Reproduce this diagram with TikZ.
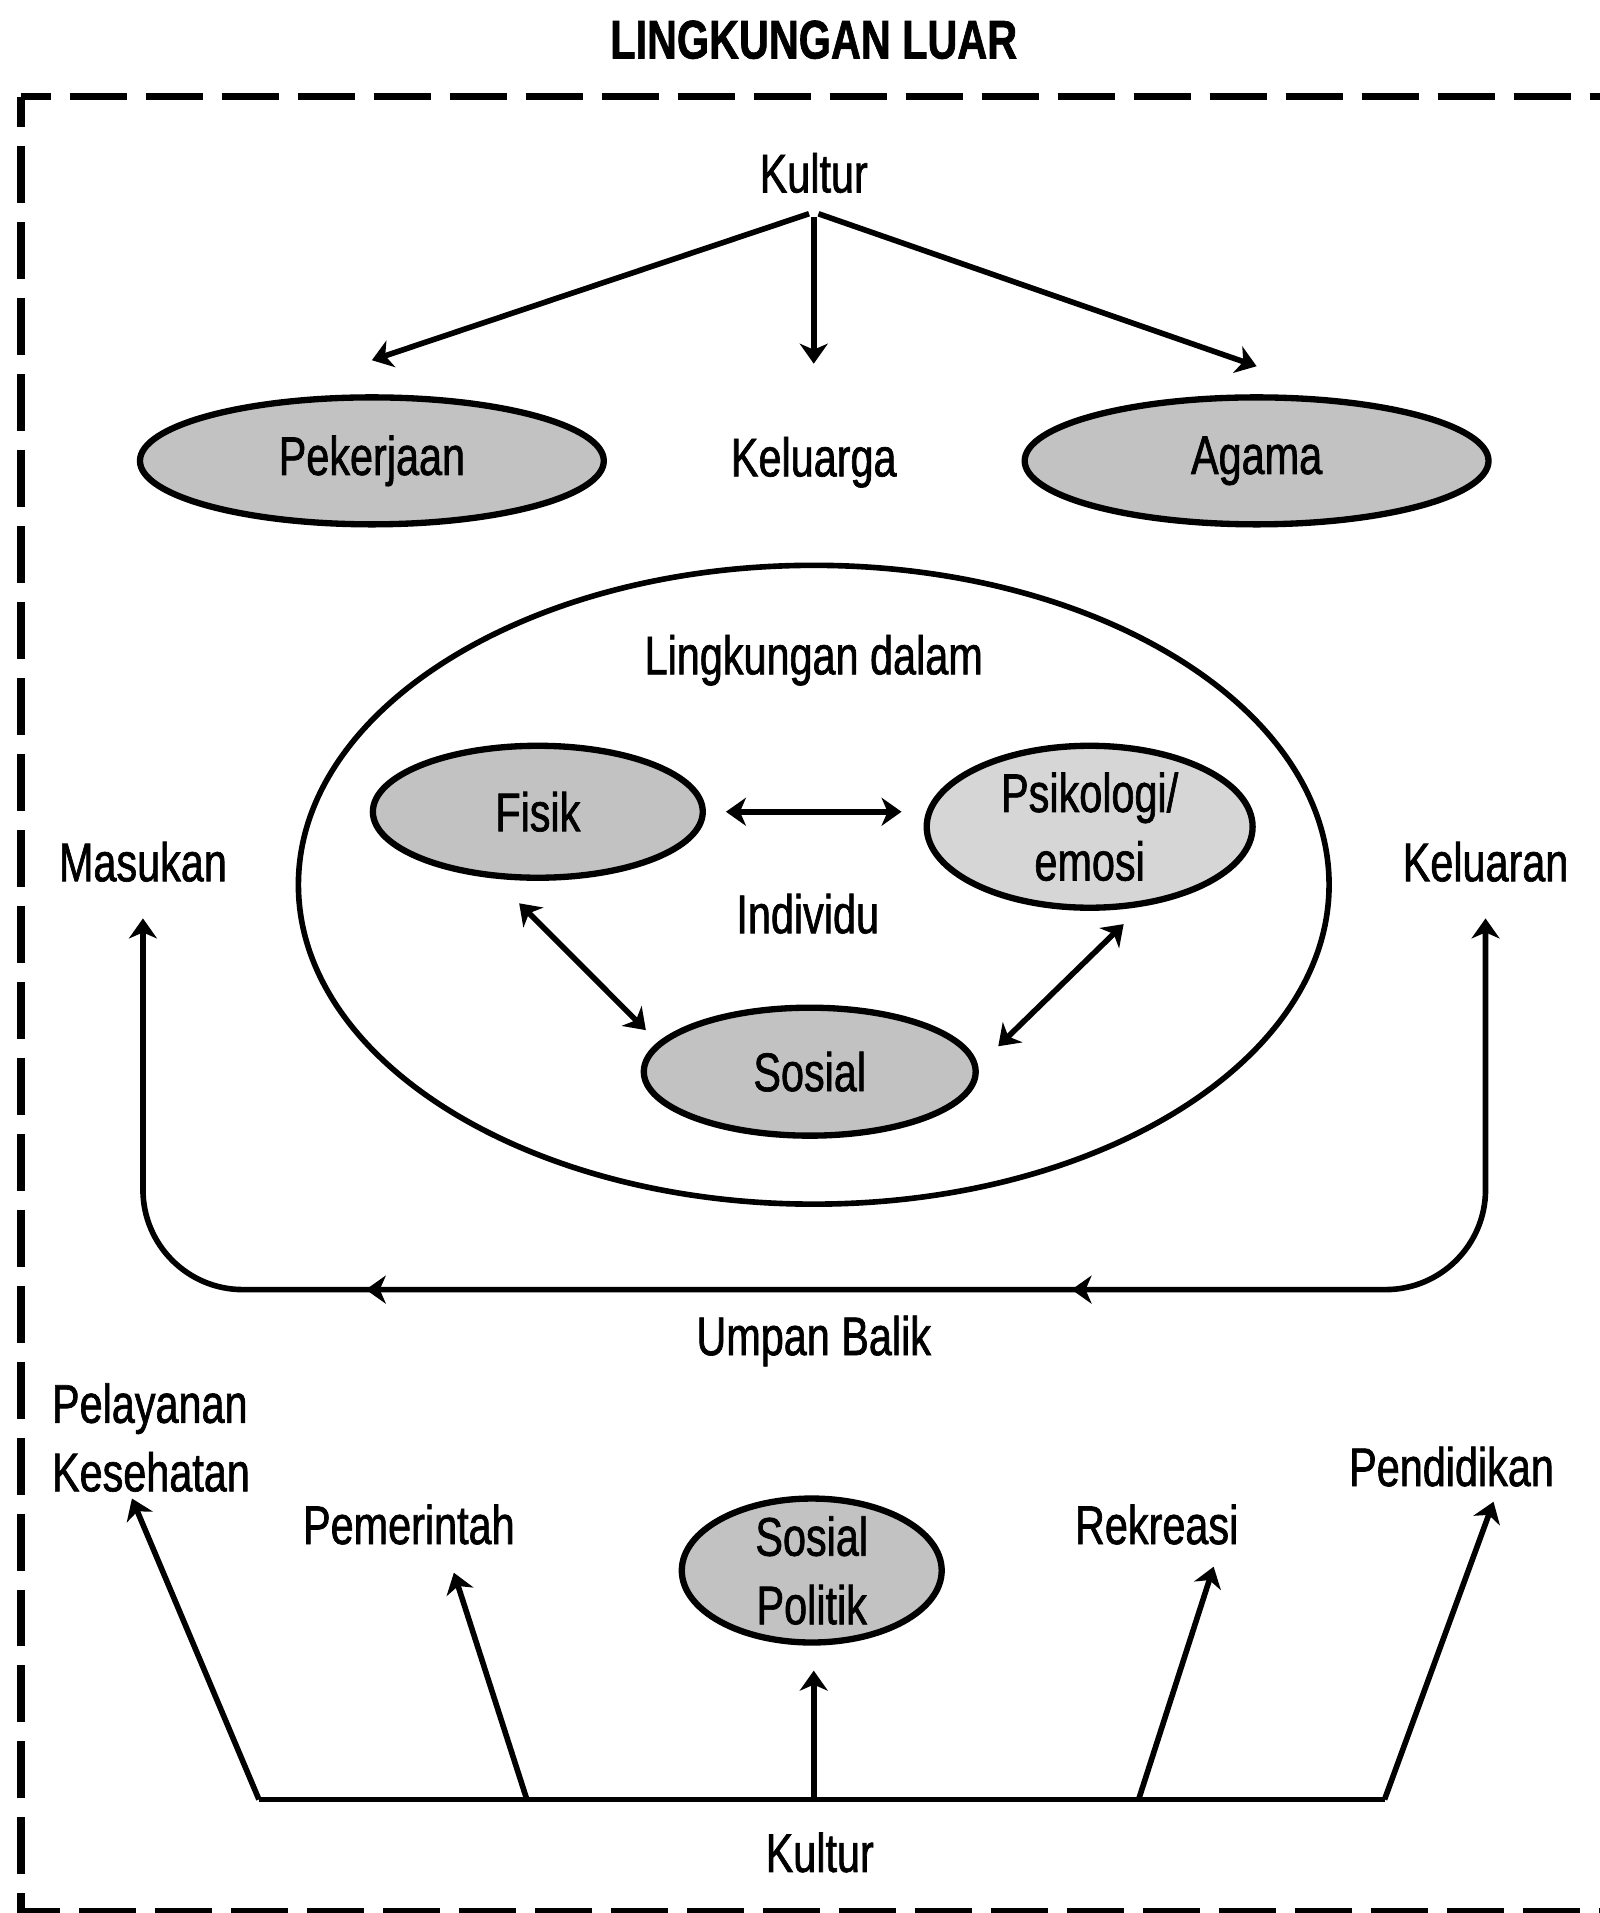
\documentclass[tikz,border=0pt]{standalone}
\usepackage{fontspec}
\setmainfont{Liberation Sans}[FakeStretch=0.76, FakeBold=1.2]
\usepackage{tikz}
\usetikzlibrary{arrows.meta,shapes.geometric,decorations.markings,calc}

\tikzset{
  txt/.style={font=\fontsize{15.5}{19.5}\selectfont, inner sep=1mm, text height=0.40cm, text depth=0.09cm},
  txtml/.style={font=\fontsize{15.5}{19.5}\selectfont, inner sep=1mm, align=center},
  oval/.style={ellipse, draw, line width=1.8pt, fill=black!24, inner sep=0pt, font=\fontsize{15.5}{19.5}\selectfont, align=center},
  conn/.style={line width=1.6pt},
}

\begin{document}
\begin{tikzpicture}[>={Stealth[length=2mm,width=2.8mm,inset=0.6mm]}]
\useasboundingbox (0,0) rectangle (16,-19.136);
% bingkai lingkungan luar
\draw[line width=2pt, dash pattern=on 5.7mm off 1.9mm, dash phase=2.7mm] (0.21,-0.97) -- (16.6,-0.97);
\draw[line width=2pt, dash pattern=on 5.7mm off 1.9mm, dash phase=2.7mm] (0.21,-0.97) -- (0.21,-19.12) -- (16.6,-19.12);
\node[txt, font=\fontsize{15.5}{19.5}\selectfont\bfseries] (judul) at (8.14,-0.43) {LINGKUNGAN LUAR};

% kultur di atas
\node[txt] (kultur) at (8.14,-1.77) {Kultur};
\node[oval, minimum width=4.64cm, minimum height=1.27cm] (pekerjaan) at (3.72,-4.61) {Pekerjaan};
\node[txt] (keluarga) at (8.14,-4.61) {Keluarga};
\node[oval, minimum width=4.64cm, minimum height=1.27cm] (agama) at (12.57,-4.61) {Agama};
\draw[->, conn, shorten <=0.5mm] (kultur.south) -- ([yshift=3.4mm]pekerjaan.north);
\draw[->, conn, shorten <=0.5mm] (kultur.south) -- ([yshift=6.2mm]keluarga.north);
\draw[->, conn, shorten <=0.5mm] (kultur.south) -- ([yshift=2.8mm]agama.north);

% lingkungan dalam
\node[ellipse, draw, line width=1.6pt, minimum width=10.31cm, minimum height=6.39cm] (dalam) at (8.14,-8.85) {};
\node[txt] (ldalam) at (8.14,-6.59) {Lingkungan dalam};
\node[oval, minimum width=3.30cm, minimum height=1.32cm] (fisik) at (5.38,-8.12) {Fisik};
\node[oval, fill=black!16, minimum width=3.26cm, minimum height=1.62cm] (psiko) at (10.90,-8.27) {Psikologi/\\emosi};
\node[txt] (individu) at (8.08,-9.18) {Individu};
\node[oval, minimum width=3.32cm, minimum height=1.28cm] (sosial) at (8.10,-10.72) {Sosial};
\draw[<->, conn, shorten <=2mm, shorten >=2.2mm] (fisik.east) -- (psiko.west |- fisik.east);
\draw[<->, conn, shorten <=3.5mm, shorten >=1.7mm] (fisik.237) -- (sosial.169);
\draw[<->, conn, shorten <=2.5mm, shorten >=2.8mm] (psiko.303) -- (sosial.2);

% masukan, keluaran, umpan balik
\node[txt] (masukan) at (1.43,-8.66) {Masukan};
\node[txt] (keluaran) at (14.86,-8.66) {Keluaran};
\coordinate (balik) at (8.14,-12.90);
\draw[<->, conn, rounded corners=1cm, shorten <=1.75mm, shorten >=1.75mm,
  postaction={decorate, decoration={markings, mark=at position 7.6cm with {\arrow{>}}, mark=at position 14.66cm with {\arrow{>}}}}]
  (keluaran.south) |- (masukan.south |- balik) -- (masukan.south);
\node[txt] (umpan) at (8.14,-13.40) {Umpan Balik};

% kultur di bawah
\node[txtml, align=left] (pelayanan) at (1.51,-14.38) {Pelayanan\\Kesehatan};
\node[txt] (pemerintah) at (4.09,-15.29) {Pemerintah};
\node[oval, minimum width=2.60cm, minimum height=1.44cm, inner ysep=-2mm] (sospol) at (8.12,-15.71) {Sosial\\Politik};
\node[txt] (rekreasi) at (11.57,-15.29) {Rekreasi};
\node[txt] (pendidikan) at (14.52,-14.71) {Pendidikan};
\node[txt] (kultur2) at (8.20,-18.57) {Kultur};
\coordinate (k1) at (2.59,-18.00);
\coordinate (k2) at (5.27,-18.00);
\coordinate (k3) at (8.14,-18.00);
\coordinate (k4) at (11.39,-18.00);
\coordinate (k5) at (13.85,-18.00);
\draw[conn] (k1) -- (k5);
\draw[->, conn] (k1) -- ([xshift=-1.9mm,yshift=0.4mm]pelayanan.south);
\draw[->, conn] (k2) -- ([xshift=4.5mm,yshift=-0.9mm]pemerintah.south);
\draw[->, conn] (k3) -- ([yshift=-2.5mm]sospol.south -| k3);
\draw[->, conn] (k4) -- ([xshift=5.7mm,yshift=-0.3mm]rekreasi.south);
\draw[->, conn] (k5) -- ([xshift=4.2mm,yshift=0.4mm]pendidikan.south);
\end{tikzpicture}
\end{document}
